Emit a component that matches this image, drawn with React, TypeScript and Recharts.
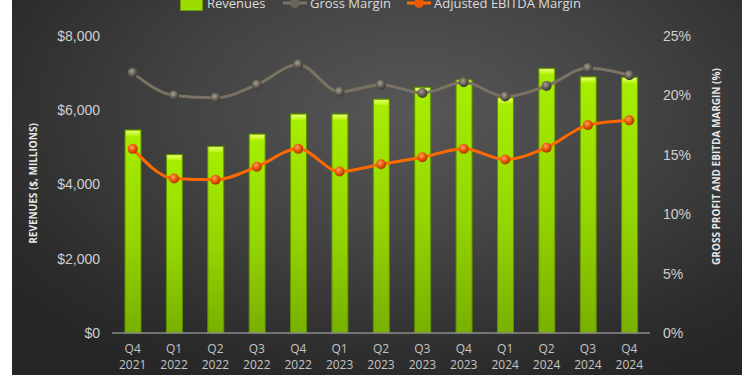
import { ComposedChart, Bar, Line, XAxis, YAxis } from 'recharts';

const quarters = ['Q4 2021', 'Q1 2022', 'Q2 2022', 'Q3 2022', 'Q4 2022', 'Q1 2023', 'Q2 2023', 'Q3 2023', 'Q4 2023', 'Q1 2024', 'Q2 2024', 'Q3 2024', 'Q4 2024'];
const revenues = [5470, 4810, 5030, 5360, 5900, 5900, 6300, 6620, 6820, 6340, 7130, 6900, 6890];
const grossMargin = [21.9, 20.0, 19.8, 20.9, 22.6, 20.3, 20.9, 20.2, 21.1, 19.9, 20.8, 22.3, 21.7];
const ebitdaMargin = [15.5, 13.0, 12.9, 14.0, 15.5, 13.6, 14.2, 14.8, 15.5, 14.6, 15.6, 17.5, 17.9];
const revenueTicks = [0, 2000, 4000, 6000, 8000];
const marginTicks = [0, 5, 10, 15, 20, 25];

const data = quarters.map((q, i) => ({
  quarter: q,
  revenue: revenues[i],
  gross: grossMargin[i],
  ebitda: ebitdaMargin[i],
}));

const TICK_COLOR = '#cfcfcf';

const QuarterTick = (props: any) => {
  const { x, y, payload } = props;
  const [q, yr] = String(payload.value).split(' ');
  return (
    <text x={x} y={y} textAnchor="middle" fill="#c4c4c4" fontSize={12} fontFamily="'Open Sans', sans-serif">
      <tspan x={x} dy={12}>{q}</tspan>
      <tspan x={x} dy={16}>{yr}</tspan>
    </text>
  );
};

const GlossyBar = (props: any) => {
  const { x, y, width, height } = props;
  if (!height || height <= 0) return null;
  return (
    <g>
      <rect x={x} y={y} width={width} height={height} fill="url(#barFill)" stroke="#5f8f00" strokeWidth={1} />
      <rect x={x + 1} y={y + 1} width={width - 2} height={5} fill="url(#barCap)" />
    </g>
  );
};

const makeDot = (grad: string) => (props: any) => (
  <circle key={`${grad}-${props.index}`} cx={props.cx} cy={props.cy} r={5} fill={`url(#${grad})`} />
);

const AxisTitle = (side: 'left' | 'right', text: string) => (props: any) => {
  const vb = props.viewBox || {};
  const cx = side === 'left' ? 33 : 716;
  const cy = side === 'left' ? vb.y + vb.height / 2 - 1 : vb.y + vb.height / 2 - 18;
  return (
    <text
      x={cx}
      y={cy}
      transform={`rotate(-90 ${cx} ${cy})`}
      textAnchor="middle"
      dominantBaseline="central"
      fill="#e6e6e6"
      fontSize={10}
      fontWeight="bold"
      fontFamily="'Open Sans', sans-serif"
    >
      {text}
    </text>
  );
};

const legendItems = [
  { name: 'Revenues', kind: 'bar', left: 180 },
  { name: 'Gross Margin', kind: 'gross', left: 282 },
  { name: 'Adjusted EBITDA Margin', kind: 'ebitda', left: 406 },
];

const LegendIcon = ({ kind }: { kind: string }) => {
  if (kind === 'bar') {
    return <span style={{ display: 'inline-block', width: 21, height: 13, background: '#9ddc00', border: '1px solid #6f9f00', marginRight: 4 }} />;
  }
  const color = kind === 'gross' ? '#7a7262' : '#ff6a00';
  const dot = kind === 'gross' ? '#6a655a' : '#e85a00';
  return (
    <svg width={26} height={14} style={{ marginRight: 2 }}>
      <line x1={1} y1={7} x2={25} y2={7} stroke={color} strokeWidth={3} />
      <circle cx={13} cy={7} r={5} fill={dot} />
    </svg>
  );
};

export default function App() {
  return (
    <div style={{ position: 'relative', width: 750, height: 375, background: '#ffffff', overflow: 'hidden' }}>
      <style>{'body{margin:0}'}</style>
      <div
        style={{
          position: 'absolute',
          left: 12,
          top: 0,
          width: 730,
          height: 375,
          background: 'radial-gradient(ellipse 70% 80% at 55% 30%, #575757 0%, #434343 45%, #2c2c2c 85%, #262626 100%)',
        }}
      />
      {legendItems.map((it) => (
        <div
          key={it.name}
          style={{
            position: 'absolute',
            top: -5,
            left: it.left,
            display: 'flex',
            alignItems: 'center',
            whiteSpace: 'nowrap',
            fontFamily: "'Open Sans', sans-serif",
            fontSize: 13,
            lineHeight: '16px',
            color: '#dcdcdc',
          }}
        >
          <LegendIcon kind={it.kind} />
          {it.name}
        </div>
      ))}
      <div style={{ position: 'absolute', left: 0, top: 0 }}>
        <ComposedChart width={750} height={375} data={data} margin={{ top: 36, right: 0, bottom: 0, left: 0 }}>
          <defs>
            <linearGradient id="barFill" x1="0" y1="0" x2="0" y2="1">
              <stop offset="0%" stopColor="#a8ee00" />
              <stop offset="55%" stopColor="#94d400" />
              <stop offset="100%" stopColor="#78b000" />
            </linearGradient>
            <linearGradient id="barCap" x1="0" y1="0" x2="0" y2="1">
              <stop offset="0%" stopColor="#e4ff7a" />
              <stop offset="100%" stopColor="#b6f200" />
            </linearGradient>
            <radialGradient id="grossDot" cx="40%" cy="35%" r="65%">
              <stop offset="0%" stopColor="#a9a294" />
              <stop offset="60%" stopColor="#5f5a50" />
              <stop offset="100%" stopColor="#3c3a35" />
            </radialGradient>
            <radialGradient id="ebitdaDot" cx="40%" cy="35%" r="65%">
              <stop offset="0%" stopColor="#ffa060" />
              <stop offset="60%" stopColor="#e65300" />
              <stop offset="100%" stopColor="#a83400" />
            </radialGradient>
          </defs>
          <XAxis
            dataKey="quarter"
            height={42}
            axisLine={{ stroke: '#8a8a8a', strokeWidth: 1.5 }}
            tickLine={false}
            interval={0}
            tick={<QuarterTick />}
          />
          <YAxis
            yAxisId="rev"
            orientation="left"
            width={112}
            domain={[0, 8000]}
            ticks={revenueTicks}
            axisLine={false}
            tickLine={false}
            tickMargin={6}
            tick={{ fill: TICK_COLOR, fontSize: 14, fontFamily: "'Liberation Sans', Arial, sans-serif" }}
            tickFormatter={(v: number) => `$${v.toLocaleString('en-US')}`}
            label={{ content: AxisTitle('left', 'REVENUES ($, MILLIONS)') }}
          />
          <YAxis
            yAxisId="pct"
            orientation="right"
            width={100}
            domain={[0, 25]}
            ticks={marginTicks}
            axisLine={false}
            tickLine={false}
            tickMargin={7}
            tick={{ fill: TICK_COLOR, fontSize: 14, fontFamily: "'Liberation Sans', Arial, sans-serif" }}
            tickFormatter={(v: number) => `${v}%`}
            label={{ content: AxisTitle('right', 'GROSS PROFIT AND EBITDA MARGIN (%)') }}
          />
          <Bar yAxisId="rev" dataKey="revenue" name="Revenues" barSize={16} shape={<GlossyBar />} isAnimationActive={false} />
          <Line
            yAxisId="pct"
            type="monotone"
            dataKey="gross"
            name="Gross Margin"
            stroke="#7a7262"
            strokeWidth={3}
            dot={makeDot('grossDot')}
            activeDot={false}
            isAnimationActive={false}
          />
          <Line
            yAxisId="pct"
            type="monotone"
            dataKey="ebitda"
            name="Adjusted EBITDA Margin"
            stroke="#ff6a00"
            strokeWidth={3}
            dot={makeDot('ebitdaDot')}
            activeDot={false}
            isAnimationActive={false}
          />
        </ComposedChart>
      </div>
    </div>
  );
}
